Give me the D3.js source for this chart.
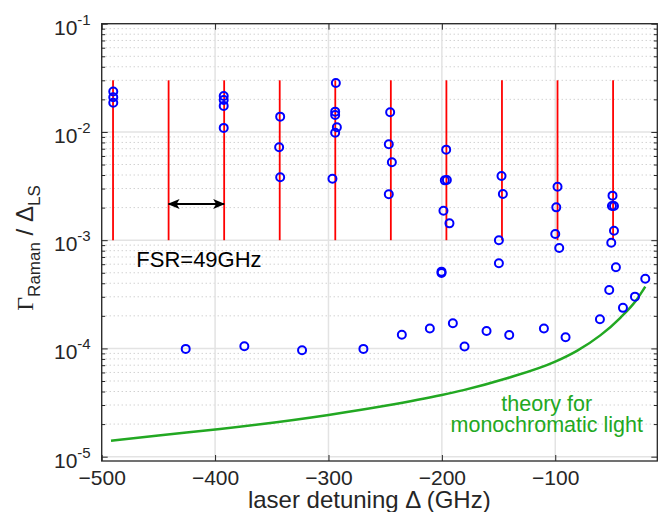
<!DOCTYPE html>
<html>
<head>
<meta charset="utf-8">
<script src="https://cdn.jsdelivr.net/npm/d3@7"></script>
<style>
body { margin: 0; background: #fff; }
text { font-family: "Liberation Sans", Arial, sans-serif; fill: #262626; }
</style>
</head>
<body>
<div id="chart"></div>
<script>
// cavity resonances, one FSR (49 GHz) apart
const combLines = [-490, -441, -392, -343, -294, -245, -196, -147, -98, -49];
const combRange = [1e-3, 3e-2];

// measured ratios, laser on a resonance
const resX = [-489.8, -489.8, -489.8,
    -392.4, -392.4, -392.4, -392.4,
    -342.6, -343.5, -342.6,
    -293.5, -294.1, -294.1, -292.6, -294.1, -296.5,
    -245.6, -246.8, -244.1, -246.8,
    -196.2, -195.6, -197.4, -198.6, -193.3, -200.3, -200.3,
    -147.4, -146.2, -149.7, -149.7,
    -98.0, -99.1, -100.0, -96.5,
    -49.5, -50.0, -48.2, -48.2, -50.6, -46.5];
const resY = [0.0236, 0.0209, 0.0186,
    0.0215, 0.0197, 0.0174, 0.0109,
    0.01385, 0.00722, 0.00381,
    0.0283, 0.0154, 0.01435, 0.01104, 0.00984, 0.00370,
    0.0152, 0.00769, 0.00525, 0.00266,
    0.00686, 0.00360, 0.00357, 0.00187, 0.00143, 0.000512, 0.000497,
    0.00392, 0.00267, 0.000997, 0.000612,
    0.00312, 0.00201, 0.00114, 0.000847,
    0.00258, 0.00207, 0.00207, 0.00122, 0.000948, 0.000562];

// measured ratios between resonances
const offX = [-425.9, -374.2, -323.3, -269.2, -235.3, -210.6, -190.3, -180.0, -160.6,
    -140.6, -110.0, -90.9, -60.6, -52.4, -40.3, -29.7, -20.6];
const offY = [9.9e-5, 1.047e-4, 9.62e-5, 9.9e-5, 1.34e-4, 1.53e-4, 1.71e-4, 1.04e-4, 1.45e-4,
    1.33e-4, 1.53e-4, 1.27e-4, 1.86e-4, 3.47e-4, 2.37e-4, 3.01e-4, 4.41e-4];

// theory for monochromatic light
const theoryX = [-491.8, -450, -395.6, -300, -250, -200, -180.9, -142.6, -100, -80.9, -60.3, -42.6, -27.9, -20.6];
const theoryY = [1.40e-5, 1.57e-5, 1.80e-5, 2.43e-5, 2.95e-5, 3.71e-5, 4.12e-5, 5.3e-5, 7.55e-5, 9.5e-5, 1.32e-4, 1.92e-4, 2.85e-4, 3.72e-4];

const xTicks = [-500, -400, -300, -200, -100];
const yTicks = [1e-5, 1e-4, 1e-3, 1e-2, 1e-1];
const fsrArrowX = [-441, -392];
const fsrArrowY = 2.16e-3;

let margin = {top: 23.7, right: 4.7, bottom: 51, left: 101.7},
    width = 662 - margin.left - margin.right,
    height = 512 - margin.top - margin.bottom;

let x = d3.scaleLinear().domain([-500, -10]).range([0, width]);
let y = d3.scaleLog().domain([Math.pow(10, -5.04), 0.1]).range([height, 0]);

let minorY = [];
for (let e = -6; e < -1; e++) {
    for (let m = 2; m <= 9; m++) {
        let v = m * Math.pow(10, e);
        if (v >= y.domain()[0] && v <= y.domain()[1]) minorY.push(v);
    }
}

let svg = d3.select("#chart").append("svg")
    .attr("width", 662).attr("height", 512);
svg.append("rect").attr("width", 662).attr("height", 512).attr("fill", "#fff");

let g = svg.append("g")
    .attr("transform", "translate(" + margin.left + "," + margin.top + ")");

// grid
g.selectAll(".minor").data(minorY).enter().append("line")
    .attr("x1", 0).attr("x2", width)
    .attr("y1", d => y(d)).attr("y2", d => y(d))
    .attr("stroke", "#bdbdbd").attr("stroke-width", 1)
    .attr("stroke-dasharray", "1,3");
g.selectAll(".gy").data(yTicks).enter().append("line")
    .attr("x1", 0).attr("x2", width)
    .attr("y1", d => y(d)).attr("y2", d => y(d))
    .attr("stroke", "#e3e3e3").attr("stroke-width", 1.5);
g.selectAll(".gx").data(xTicks).enter().append("line")
    .attr("x1", d => x(d)).attr("x2", d => x(d))
    .attr("y1", 0).attr("y2", height)
    .attr("stroke", "#e3e3e3").attr("stroke-width", 1.5);

// resonance lines
g.selectAll(".comb").data(combLines).enter().append("line")
    .attr("x1", d => x(d)).attr("x2", d => x(d))
    .attr("y1", y(combRange[0])).attr("y2", y(combRange[1]))
    .attr("stroke", "#ff0000").attr("stroke-width", 1.8);

// theory
let theory = theoryX.map((d, i) => [d, theoryY[i]]);
g.append("path").datum(theory)
    .attr("fill", "none").attr("stroke", "#22a822").attr("stroke-width", 2.5)
    .attr("d", d3.line().x(d => x(d[0])).y(d => y(d[1])).curve(d3.curveMonotoneX));

// data points
let pts = resX.map((d, i) => [d, resY[i]]).concat(offX.map((d, i) => [d, offY[i]]));
g.selectAll(".pt").data(pts).enter().append("circle")
    .attr("cx", d => x(d[0])).attr("cy", d => y(d[1])).attr("r", 4)
    .attr("fill", "none").attr("stroke", "#0000ff").attr("stroke-width", 2);

// FSR arrow
let defs = svg.append("defs");
defs.append("marker").attr("id", "head")
    .attr("viewBox", "0 0 12 10").attr("refX", 11).attr("refY", 5)
    .attr("markerWidth", 12).attr("markerHeight", 10)
    .attr("markerUnits", "userSpaceOnUse")
    .attr("orient", "auto-start-reverse")
    .append("path").attr("d", "M0,0 L12,5 L0,10 L3,5 Z").attr("fill", "#000");
g.append("line")
    .attr("x1", x(fsrArrowX[0])).attr("x2", x(fsrArrowX[1]))
    .attr("y1", y(fsrArrowY)).attr("y2", y(fsrArrowY))
    .attr("stroke", "#000").attr("stroke-width", 2)
    .attr("marker-start", "url(#head)").attr("marker-end", "url(#head)");

g.append("text").attr("x", x(-469.5)).attr("y", y(5.65e-4))
    .attr("font-size", 22).style("fill", "#000").text("FSR=49GHz");

g.append("text").attr("x", x(-107.5)).attr("y", y(2.66e-5))
    .attr("text-anchor", "middle").attr("font-size", 21.5).style("fill", "#22a822")
    .text("theory for");
g.append("text").attr("x", x(-107.5)).attr("y", y(1.69e-5))
    .attr("text-anchor", "middle").attr("font-size", 21.5).style("fill", "#22a822")
    .text("monochromatic light");

// axes
function styleAxis(sel) {
    sel.select(".domain").remove();
    sel.selectAll(".tick line").attr("stroke", "#262626").attr("stroke-width", 1);
}

g.append("g").attr("transform", "translate(0," + height + ")")
    .call(d3.axisBottom(x).tickValues(xTicks).tickSize(-6).tickPadding(9))
    .call(styleAxis)
    .selectAll("text").attr("font-size", 21).style("fill", "#262626")
    .attr("font-family", "Liberation Sans, Arial, sans-serif");

g.append("g")
    .call(d3.axisTop(x).tickValues(xTicks).tickSize(-6).tickFormat(""))
    .call(styleAxis);

let yAxisG = g.append("g")
    .call(d3.axisLeft(y).tickValues(yTicks).tickSize(-6).tickPadding(11))
    .call(styleAxis);
yAxisG.selectAll(".tick text")
    .attr("font-size", 21).attr("dy", "0.5em")
    .attr("font-family", "Liberation Sans, Arial, sans-serif")
    .style("fill", "#262626")
    .each(function (d) {
        let t = d3.select(this);
        t.text(null);
        t.append("tspan").text("10");
        t.append("tspan").attr("dy", -10).attr("font-size", 15)
            .text(String(Math.round(Math.log10(d))));
    });

g.append("g")
    .call(d3.axisLeft(y).tickValues(minorY).tickSize(-3.5).tickFormat(""))
    .call(styleAxis);
g.append("g").attr("transform", "translate(" + width + ",0)")
    .call(d3.axisRight(y).tickValues(yTicks).tickSize(-6).tickFormat(""))
    .call(styleAxis);
g.append("g").attr("transform", "translate(" + width + ",0)")
    .call(d3.axisRight(y).tickValues(minorY).tickSize(-3.5).tickFormat(""))
    .call(styleAxis);

g.append("rect").attr("width", width).attr("height", height)
    .attr("fill", "none").attr("stroke", "#262626").attr("stroke-width", 1.3);

// axis labels
svg.append("text").attr("x", margin.left + x(-264)).attr("y", 507.5)
    .attr("text-anchor", "middle").attr("font-size", 24)
    .text("laser detuning \u0394 (GHz)");

let yl = svg.append("text")
    .attr("transform", "translate(33,248) rotate(-90)")
    .attr("text-anchor", "middle").attr("font-size", 24);
yl.append("tspan").attr("font-family", "Liberation Serif, Times New Roman, serif").text("\u0393");
yl.append("tspan").attr("font-size", 17).attr("dy", 7).text("Raman");
yl.append("tspan").attr("dy", -7).text(" / \u0394");
yl.append("tspan").attr("font-size", 17).attr("dy", 7).text("LS");
</script>
</body>
</html>
